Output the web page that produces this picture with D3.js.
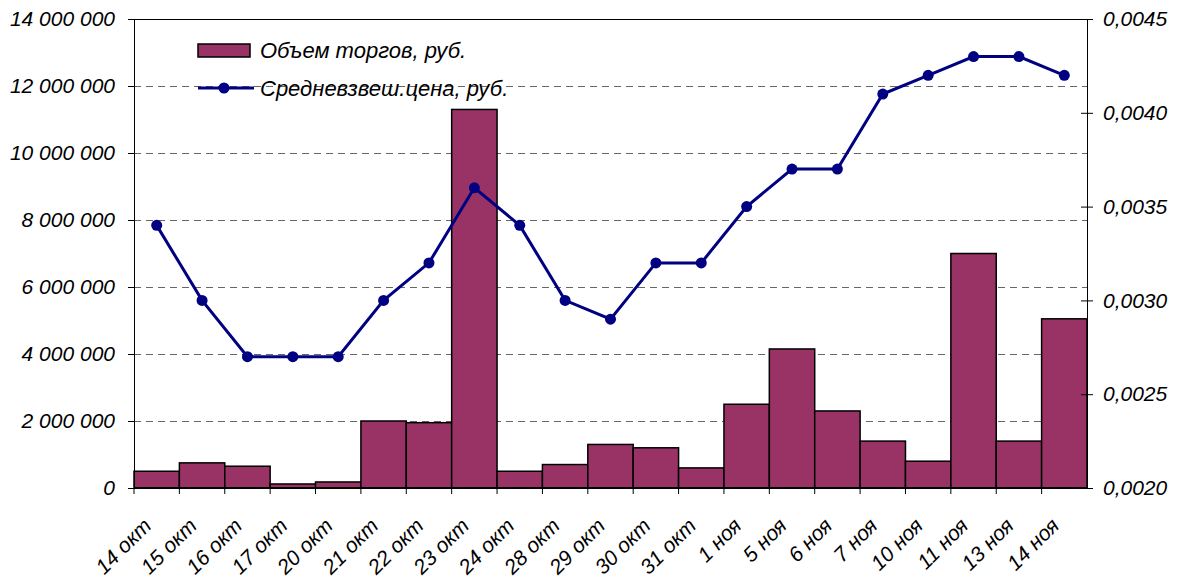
<!DOCTYPE html>
<html>
<head>
<meta charset="utf-8">
<script src="https://cdn.jsdelivr.net/npm/d3@7"></script>
<style>
  body { margin: 0; background: #fff; }
  text { font-family: "Liberation Sans", Arial, sans-serif; font-style: italic; }
</style>
</head>
<body>
<div id="chart"></div>
<script>
// Trade volume (bars, left axis) and weighted avg price (line, right axis)
const dates = ['14 окт', '15 окт', '16 окт', '17 окт', '20 окт', '21 окт', '22 окт', '23 окт', '24 окт',
  '28 окт', '29 окт', '30 окт', '31 окт', '1 ноя', '5 ноя', '6 ноя', '7 ноя', '10 ноя', '11 ноя', '13 ноя', '14 ноя']
const volume = [500000, 750000, 650000, 120000, 180000, 2000000, 1950000, 11300000, 500000,
  700000, 1300000, 1200000, 600000, 2500000, 4150000, 2300000, 1400000, 800000, 7000000, 1400000, 5050000]
const price = [0.0034, 0.0030, 0.0027, 0.0027, 0.0027, 0.0030, 0.0032, 0.0036, 0.0034,
  0.0030, 0.0029, 0.0032, 0.0032, 0.0035, 0.0037, 0.0037, 0.0041, 0.0042, 0.0043, 0.0043, 0.0042]
const leftTicks = [0, 2000000, 4000000, 6000000, 8000000, 10000000, 12000000, 14000000]
const rightTicks = [0.0020, 0.0025, 0.0030, 0.0035, 0.0040, 0.0045]
const seriesNames = ['Объем торгов, руб.', 'Средневзвеш.цена, руб.']

const W = 1181, H = 579
const margin = { top: 19, right: 94, bottom: 91, left: 134 }
const width = W - margin.left - margin.right
const height = H - margin.top - margin.bottom

const barColor = '#993366'
const lineColor = '#000080'
const fontSize = 21

const svg = d3.select('#chart').append('svg')
  .attr('width', W).attr('height', H)
const g = svg.append('g').attr('transform', `translate(${margin.left},${margin.top})`)

const x = d3.scaleBand().domain(dates).range([0, width]).padding(0)
const yL = d3.scaleLinear().domain([0, 14000000]).range([height, 0])
const yR = d3.scaleLinear().domain([0.0020, 0.0045]).range([height, 0])

const fmtL = d => d3.format(',')(d).replace(/,/g, ' ')
const fmtR = d => d3.format('.4f')(d).replace('.', ',')

// gridlines
g.append('g').selectAll('line')
  .data(leftTicks.filter(d => d > 0 && d < 14000000))
  .join('line')
  .attr('x1', 0).attr('x2', width)
  .attr('y1', d => Math.round(yL(d)) + 0.5).attr('y2', d => Math.round(yL(d)) + 0.5)
  .attr('stroke', '#666').attr('stroke-width', 1.2)
  .attr('stroke-dasharray', '7,5')

// bars
g.append('g').selectAll('rect')
  .data(volume)
  .join('rect')
  .attr('x', (d, i) => x(dates[i]))
  .attr('y', d => yL(d))
  .attr('width', x.bandwidth())
  .attr('height', d => height - yL(d))
  .attr('fill', barColor)
  .attr('stroke', '#000').attr('stroke-width', 1.5)

// plot frame top
g.append('line').attr('x1', 0).attr('x2', width).attr('y1', 0.5).attr('y2', 0.5)
  .attr('stroke', '#000').attr('stroke-width', 1)

// left axis
const axL = g.append('g')
  .call(d3.axisLeft(yL).tickValues(leftTicks).tickFormat(fmtL).tickSize(6).tickPadding(13))
axL.select('.domain').attr('stroke', '#000')
axL.selectAll('text').attr('font-size', fontSize).attr('fill', '#000')

// right axis
const axR = g.append('g').attr('transform', `translate(${width},0)`)
  .call(d3.axisRight(yR).tickValues(rightTicks).tickFormat(fmtR).tickSize(6).tickPadding(10))
axR.selectAll('.tick line').attr('x1', -6)
axR.select('.domain').attr('stroke', '#000')
axR.selectAll('text').attr('font-size', fontSize).attr('fill', '#000')

// bottom axis: ticks at category boundaries
const axB = g.append('g').attr('transform', `translate(0,${height})`)
axB.append('line').attr('x1', 0).attr('x2', width).attr('stroke', '#000').attr('stroke-width', 2)
axB.selectAll('.bt')
  .data(dates)
  .join('line')
  .attr('class', 'bt')
  .attr('x1', d => x(d)).attr('x2', d => x(d))
  .attr('y1', 0).attr('y2', 6)
  .attr('stroke', '#000')
axB.selectAll('.bl')
  .data(dates)
  .join('text')
  .attr('class', 'bl')
  .attr('text-anchor', 'end')
  .attr('font-size', fontSize)
  .attr('transform', d => `translate(${x(d) + x.bandwidth() / 2 - 4},${39}) rotate(-45)`)
  .text(d => d)

// price line
const line = d3.line()
  .x((d, i) => x(dates[i]) + x.bandwidth() / 2)
  .y(d => yR(d))
g.append('path')
  .datum(price)
  .attr('d', line)
  .attr('fill', 'none')
  .attr('stroke', lineColor).attr('stroke-width', 3)
g.append('g').selectAll('circle')
  .data(price)
  .join('circle')
  .attr('cx', (d, i) => x(dates[i]) + x.bandwidth() / 2)
  .attr('cy', d => yR(d))
  .attr('r', 5.5)
  .attr('fill', lineColor)

// legend
const lg = svg.append('g')
lg.append('rect').attr('x', 198).attr('y', 44).attr('width', 52).attr('height', 13)
  .attr('fill', barColor).attr('stroke', '#000').attr('stroke-width', 1.5)
lg.append('text').attr('x', 260).attr('y', 50).attr('dy', '0.35em').attr('font-size', 22).text(seriesNames[0])
lg.append('line').attr('x1', 198).attr('x2', 254).attr('y1', 88).attr('y2', 88)
  .attr('stroke', lineColor).attr('stroke-width', 3)
lg.append('circle').attr('cx', 224).attr('cy', 88).attr('r', 5.5).attr('fill', lineColor)
lg.append('text').attr('x', 260).attr('y', 88).attr('dy', '0.35em').attr('font-size', 22).text(seriesNames[1])
</script>
</body>
</html>
